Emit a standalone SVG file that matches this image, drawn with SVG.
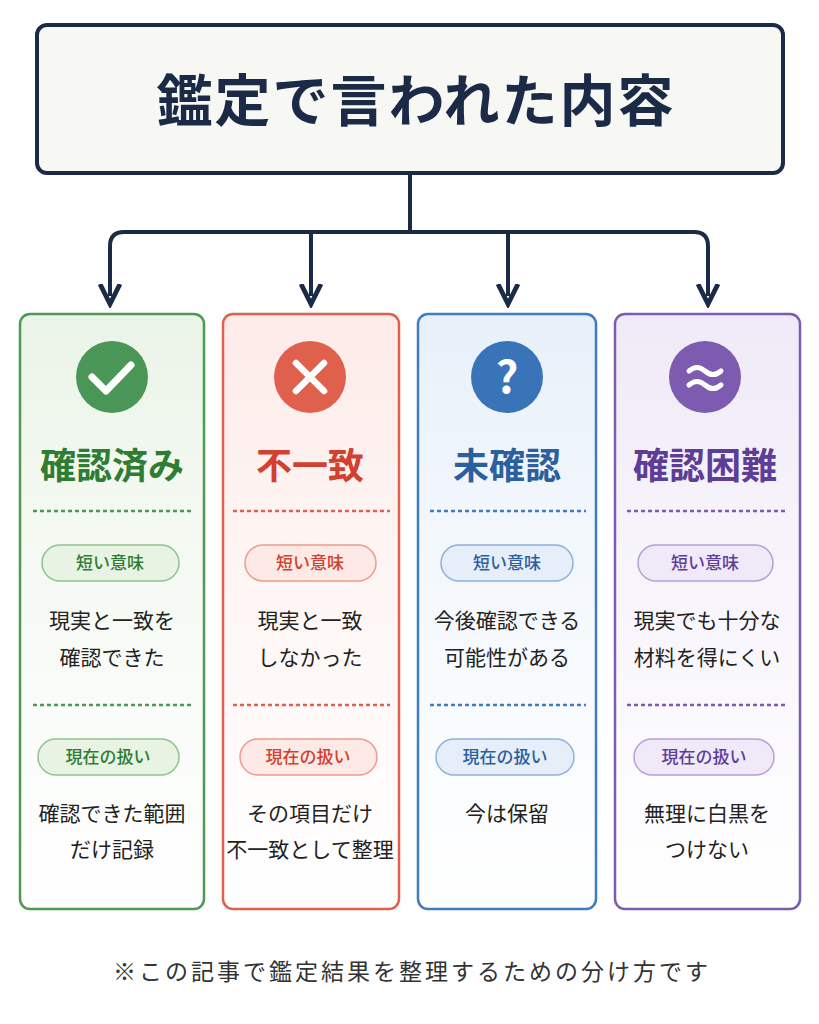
<svg xmlns="http://www.w3.org/2000/svg" width="819" height="1024" viewBox="0 0 819 1024">
<style>
text{font-family:"Noto Sans CJK JP","Noto Sans",sans-serif;text-anchor:middle}
.title{font-size:56px;font-weight:700;fill:#1b2a47;letter-spacing:2px}
.h{font-size:36px;font-weight:700}
.pill{font-size:17px;font-weight:500}
.body{font-size:21px;fill:#222}
.foot{font-size:23px;fill:#333;letter-spacing:3px}
.conn{fill:none;stroke:#1b2a47;stroke-width:4}
</style>
<defs>
<marker id="ah" markerWidth="6" markerHeight="6" refX="3" refY="3" orient="auto" markerUnits="strokeWidth"><path d="M0,0.5 L5,3 L0,5.5" fill="none" stroke="#1b2a47" stroke-width="1.2"/></marker>
<linearGradient id="gg" x1="0" y1="0" x2="0" y2="1"><stop offset="0" stop-color="#ebf4e8"/><stop offset="0.35" stop-color="#f4f9f2"/><stop offset="1" stop-color="#ffffff"/></linearGradient>
<linearGradient id="gr" x1="0" y1="0" x2="0" y2="1"><stop offset="0" stop-color="#fdebe8"/><stop offset="0.35" stop-color="#fdf4f2"/><stop offset="1" stop-color="#ffffff"/></linearGradient>
<linearGradient id="gb" x1="0" y1="0" x2="0" y2="1"><stop offset="0" stop-color="#e7f0fa"/><stop offset="0.35" stop-color="#f2f7fc"/><stop offset="1" stop-color="#ffffff"/></linearGradient>
<linearGradient id="gp" x1="0" y1="0" x2="0" y2="1"><stop offset="0" stop-color="#efeaf7"/><stop offset="0.35" stop-color="#f6f3fb"/><stop offset="1" stop-color="#ffffff"/></linearGradient>
</defs>
<rect width="819" height="1024" fill="#fff"/>
<g id="header">
<rect x="37" y="25" width="746" height="148" rx="10" fill="#f7f7f4" stroke="#1b2a47" stroke-width="4"/>
<text class="title" x="416" y="121">鑑定で言われた内容</text>
</g>
<g id="connectors">
<path class="conn" d="M410,173 V232"/>
<path class="conn" d="M110,296 V246 Q110,232 124,232 H694 Q708,232 708,246 V296" marker-end="url(#ah)"/>
<path class="conn" d="M110,250 V296" marker-end="url(#ah)"/>
<path class="conn" d="M311,232 V296" marker-end="url(#ah)"/>
<path class="conn" d="M508,232 V296" marker-end="url(#ah)"/>
</g>
<g id="card-confirmed">
<rect x="20" y="314" width="184" height="595" rx="10" fill="url(#gg)" stroke="#4e9a50" stroke-width="2.5"/>
<circle cx="112" cy="377" r="36" fill="#4a9656"/>
<path d="M92,377 L106,391 L131,365" fill="none" stroke="#fff" stroke-width="7" stroke-linecap="round" stroke-linejoin="round"/>
<text class="h" x="112" y="479" fill="#2f7d32">確認済み</text>
<line x1="33" y1="511" x2="192" y2="511" stroke="#4e9a50" stroke-width="2.5" stroke-dasharray="4,3"/>
<rect x="42" y="545" width="137" height="36" rx="18" fill="#e8f3e4" stroke="#8ec48f" stroke-width="1.5"/>
<text class="pill" x="110" y="569" fill="#2f7d32">短い意味</text>
<text class="body" x="112" y="628">現実と一致を</text>
<text class="body" x="112" y="665">確認できた</text>
<line x1="33" y1="705" x2="192" y2="705" stroke="#4e9a50" stroke-width="2.5" stroke-dasharray="4,3"/>
<rect x="38" y="739" width="141" height="36" rx="18" fill="#e8f3e4" stroke="#8ec48f" stroke-width="1.5"/>
<text class="pill" x="108" y="763" fill="#2f7d32">現在の扱い</text>
<text class="body" x="112" y="821">確認できた範囲</text>
<text class="body" x="112" y="857">だけ記録</text>
</g>
<g id="card-mismatch">
<rect x="223" y="314" width="176" height="595" rx="10" fill="url(#gr)" stroke="#e0604e" stroke-width="2.5"/>
<circle cx="310" cy="377" r="36" fill="#e0604e"/>
<path d="M296,363 L324,391 M324,363 L296,391" stroke="#fff" stroke-width="6.5" stroke-linecap="round"/>
<text class="h" x="310" y="479" fill="#d2402f">不一致</text>
<line x1="233" y1="511" x2="390" y2="511" stroke="#e0604e" stroke-width="2.5" stroke-dasharray="4,3"/>
<rect x="245" y="545" width="131" height="36" rx="18" fill="#fdeae6" stroke="#ee9a8c" stroke-width="1.5"/>
<text class="pill" x="310" y="569" fill="#d2402f">短い意味</text>
<text class="body" x="310" y="628">現実と一致</text>
<text class="body" x="310" y="665">しなかった</text>
<line x1="233" y1="705" x2="390" y2="705" stroke="#e0604e" stroke-width="2.5" stroke-dasharray="4,3"/>
<rect x="240" y="739" width="137" height="36" rx="18" fill="#fdeae6" stroke="#ee9a8c" stroke-width="1.5"/>
<text class="pill" x="308" y="763" fill="#d2402f">現在の扱い</text>
<text class="body" x="310" y="821">その項目だけ</text>
<text class="body" x="310" y="857">不一致として整理</text>
</g>
<g id="card-unconfirmed">
<rect x="418" y="314" width="178" height="595" rx="10" fill="url(#gb)" stroke="#3f7cc0" stroke-width="2.5"/>
<circle cx="507" cy="377" r="36" fill="#3a74b8"/>
<text x="507" y="393" font-size="44" font-weight="700" fill="#fff" font-family="Liberation Sans,sans-serif">?</text>
<text class="h" x="507" y="479" fill="#2c5f9e">未確認</text>
<line x1="430" y1="511" x2="586" y2="511" stroke="#3f7cc0" stroke-width="2.5" stroke-dasharray="4,3"/>
<rect x="441" y="545" width="132" height="36" rx="18" fill="#e6eef9" stroke="#8db0dc" stroke-width="1.5"/>
<text class="pill" x="507" y="569" fill="#2c5f9e">短い意味</text>
<text class="body" x="507" y="628">今後確認できる</text>
<text class="body" x="507" y="665">可能性がある</text>
<line x1="430" y1="705" x2="586" y2="705" stroke="#3f7cc0" stroke-width="2.5" stroke-dasharray="4,3"/>
<rect x="436" y="739" width="138" height="36" rx="18" fill="#e6eef9" stroke="#8db0dc" stroke-width="1.5"/>
<text class="pill" x="505" y="763" fill="#2c5f9e">現在の扱い</text>
<text class="body" x="507" y="821">今は保留</text>
</g>
<g id="card-difficult">
<rect x="615" y="314" width="185" height="595" rx="10" fill="url(#gp)" stroke="#7c5bb0" stroke-width="2.5"/>
<circle cx="705" cy="377" r="36" fill="#7c5bb0"/>
<path d="M689,371 q8,-7 16,0 t16,0 M689,385 q8,-7 16,0 t16,0" fill="none" stroke="#fff" stroke-width="5" stroke-linecap="round"/>
<text class="h" x="705" y="479" fill="#5e3d98">確認困難</text>
<line x1="627" y1="511" x2="788" y2="511" stroke="#7c5bb0" stroke-width="2.5" stroke-dasharray="4,3"/>
<rect x="638" y="545" width="135" height="36" rx="18" fill="#efe9f8" stroke="#b3a0d6" stroke-width="1.5"/>
<text class="pill" x="705" y="569" fill="#5e3d98">短い意味</text>
<text class="body" x="707" y="628">現実でも十分な</text>
<text class="body" x="707" y="665">材料を得にくい</text>
<line x1="627" y1="705" x2="788" y2="705" stroke="#7c5bb0" stroke-width="2.5" stroke-dasharray="4,3"/>
<rect x="634" y="739" width="140" height="36" rx="18" fill="#efe9f8" stroke="#b3a0d6" stroke-width="1.5"/>
<text class="pill" x="704" y="763" fill="#5e3d98">現在の扱い</text>
<text class="body" x="707" y="821">無理に白黒を</text>
<text class="body" x="707" y="857">つけない</text>
</g>
<text class="foot" x="412" y="980">※この記事で鑑定結果を整理するための分け方です</text>
</svg>
